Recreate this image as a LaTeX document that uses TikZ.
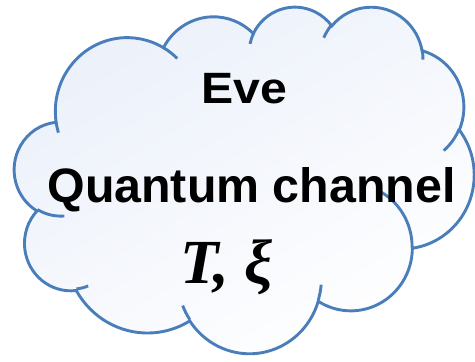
\documentclass[tikz,border=0pt]{standalone}
\usepackage{fontspec}
\usepackage{graphicx}
\newfontfamily\arialf{Liberation Sans}
\newfontfamily\timesf{Liberation Serif}
\definecolor{cloudline}{RGB}{74,126,187}
\definecolor{cloudtop}{RGB}{235,240,250}
% visual (DrawingML) arc -> parametric TikZ arc
\newcommand\cldset[5]{%
  \pgfmathsetmacro\cldA{atan2((#2)*sin(#4),(#3)*cos(#4))}%
  \pgfmathsetmacro\cldB{atan2((#2)*sin((#4)+(#5)),(#3)*cos((#4)+(#5)))}%
  \pgfmathsetmacro\cldD{mod(\cldB-\cldA+720,360)}%
  \expandafter\xdef\csname cldP#1\endcsname{arc[start angle=\cldA, delta angle=\cldD, x radius=#2, y radius=#3]}%
}
\newcommand\cldarc[1]{\csname cldP#1\endcsname}
\tikzset{
  cloudbody/.style={draw=cloudline, line width=2.9bp, top color=cloudtop, bottom color=white, shading angle=30},
  cloudstub/.style={draw=cloudline, line width=2.9bp},
  sanstxt/.style={inner sep=0pt, anchor=base, font=\arialf\bfseries},
  mathtxt/.style={inner sep=0pt, anchor=base, font=\timesf\bfseries\itshape}
}
\begin{document}
\begin{tikzpicture}[x=1bp,y=-1bp]
\useasboundingbox (0,0) rectangle (475,361);
\cldset{1}{67.53}{91.90}{-190.48748}{123.78053}
\cldset{2}{53.33}{72.67}{-144.10238}{89.94523}
\cldset{3}{43.65}{59.45}{-145.80792}{99.72302}
\cldset{4}{48.57}{65.95}{-130.98607}{117.24173}
\cldset{5}{53.33}{72.73}{-78.70888}{109.02692}
\cldset{6}{67.75}{92.20}{-46.26725}{130.269}
\cldset{7}{57.85}{78.67}{0.62502}{114.03333}
\cldset{8}{67.52}{92.15}{22.4516}{115.17255}
\cldset{9}{77.20}{105.43}{66.24263}{75.71102}
\cldset{10}{43.60}{59.18}{-274.94208}{146.73557}
\cldset{11}{43.45}{59.45}{-246.8285}{152.51885}
\cldset{s1}{43.45}{59.45}{86.742}{26.4295}
\cldset{s2}{43.60}{59.18}{73.61047}{11.44747}
\cldset{s3}{67.52}{92.15}{137.62415}{14.0811}
\cldset{s4}{67.52}{92.15}{6.45327}{15.99835}
\cldset{s5}{57.85}{78.67}{-70.29235}{70.91737}
\cldset{s6}{53.33}{72.73}{30.31803}{27.7515}
\cldset{s7}{48.57}{65.95}{-13.74433}{14.8589}
\cldset{s8}{48.57}{65.95}{-149.18145}{18.19537}
\cldset{s9}{43.65}{59.45}{-163.49427}{17.68635}
\cldset{s10}{67.53}{91.90}{-66.70695}{12.31935}
\cldset{s11}{67.53}{91.90}{157.65435}{11.85817}
\begin{scope}[shift={(14.5,6)}, x=1.06366bp, y=-0.80208bp]
  \path[cloudbody] (39.00,143.70) \cldarc{1} \cldarc{2} \cldarc{3} \cldarc{4}
    \cldarc{5} \cldarc{6} \cldarc{7} \cldarc{8} \cldarc{9} \cldarc{10} \cldarc{11} -- cycle;
  \draw[cloudstub] (46.93,261.77) \cldarc{s1};
  \draw[cloudstub] (69.28,348.99) \cldarc{s2};
  \draw[cloudstub] (164.78,390.90) \cldarc{s3};
  \draw[cloudstub] (288.27,347.51) \cldarc{s4};
  \draw[cloudstub] (341.29,229.54) \cldarc{s5};
  \draw[cloudstub] (417.98,153.54) \cldarc{s6};
  \draw[cloudstub] (383.24,54.26) \cldarc{s7};
  \draw[cloudstub] (290.78,39.52) \cldarc{s8};
  \draw[cloudstub] (221.41,47.20) \cldarc{s9};
  \draw[cloudstub] (140.00,51.92) \cldarc{s10};
  \draw[cloudstub] (41.27,157.89) \cldarc{s11};
\end{scope}
\node[sanstxt, font=\arialf\bfseries\fontsize{44}{46}\selectfont] (eve) at (244.5,103.5) {\scalebox{1.1}[1]{Eve}};
\node[sanstxt, font=\arialf\bfseries\fontsize{48.5}{50}\selectfont] (qc) at (251.5,202) {Quantum channel};
\node[mathtxt, font=\timesf\bfseries\itshape\fontsize{63}{65}\selectfont] (tx) at (227,283) {T, ξ};
\end{tikzpicture}
\end{document}
